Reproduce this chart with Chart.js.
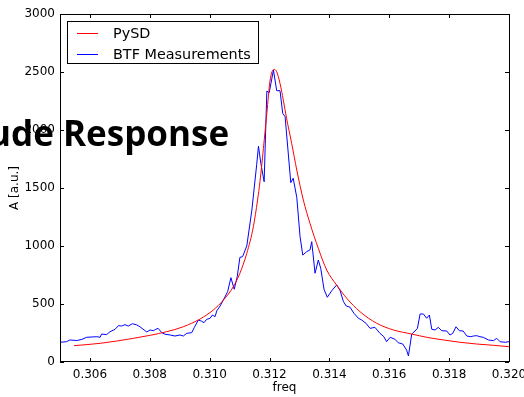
<!DOCTYPE html>
<html>
<head>
<meta charset="utf-8">
<script src="https://cdn.jsdelivr.net/npm/chart.js@4.4.1/dist/chart.umd.min.js"></script>
<style>
  html, body { margin: 0; padding: 0; background: #fff; }
  canvas { display: block; }
</style>
</head>
<body>
<canvas id="chart" width="524" height="397"></canvas>
<script>
const measFreq = [
  0.30500, 0.30522, 0.30533, 0.30556, 0.30573, 0.30589, 0.30623, 0.30634, 0.30639, 0.30656,
  0.30667, 0.30684, 0.30695, 0.30706, 0.30717, 0.30728, 0.30742, 0.30756, 0.30767, 0.30781,
  0.30790, 0.30801, 0.30812, 0.30820, 0.30828, 0.30840, 0.30851, 0.30868, 0.30884, 0.30901,
  0.30912, 0.30923, 0.30940, 0.30949, 0.30962, 0.30973, 0.30981, 0.30990, 0.31001, 0.31009,
  0.31018, 0.31024, 0.31035, 0.31048, 0.31060, 0.31071, 0.31082, 0.31092, 0.31101, 0.31110,
  0.31124, 0.31141, 0.31157, 0.31163, 0.31171, 0.31182, 0.31191, 0.31199, 0.31213, 0.31224,
  0.31235, 0.31244, 0.31252, 0.31271, 0.31279, 0.31291, 0.31302, 0.31311, 0.31324, 0.31335,
  0.31341, 0.31352, 0.31363, 0.31371, 0.31382, 0.31393, 0.31408, 0.31424, 0.31435, 0.31447,
  0.31456, 0.31469, 0.31482, 0.31497, 0.31508, 0.31522, 0.31536, 0.31552, 0.31569, 0.31582,
  0.31591, 0.31603, 0.31619, 0.31630, 0.31645, 0.31658, 0.31664, 0.31675, 0.31686, 0.31694,
  0.31703, 0.31714, 0.31725, 0.31734, 0.31742, 0.31753, 0.31764, 0.31775, 0.31792, 0.31803,
  0.31812, 0.31823, 0.31834, 0.31847, 0.31859, 0.31872, 0.31881, 0.31892, 0.31903, 0.31914,
  0.31931, 0.31948, 0.31959, 0.31970, 0.31987, 0.32000
];
const measAmp = [
  170, 175, 190, 185, 195, 213, 218, 213, 241, 236,
  261, 282, 313, 310, 322, 310, 330, 320, 304, 276,
  259, 276, 270, 282, 290, 253, 239, 233, 224, 233,
  224, 247, 253, 299, 362, 352, 339, 368, 376, 405,
  391, 442, 483, 546, 606, 727, 627, 735, 902, 908,
  1000, 1310, 1700, 1860, 1713, 1554, 2335, 2322, 2517, 2339,
  2339, 2144, 2115, 1546, 1584, 1420, 1080, 922, 951, 965,
  1037, 765, 879, 808, 627, 558, 615, 664, 621, 520,
  483, 472, 420, 377, 362, 334, 290, 299, 247, 218,
  175, 213, 196, 166, 155, 103, 52, 241, 267, 290,
  414, 414, 377, 405, 282, 276, 299, 270, 267, 233,
  247, 304, 270, 267, 224, 218, 224, 227, 218, 213,
  190, 184, 204, 175, 170, 175
];

// PySD fit (red)
const fitFreq = [
  0.30547, 0.30634, 0.30745, 0.30801, 0.30856, 0.30912, 0.30968, 0.31012, 0.31046, 0.31079,
  0.31101, 0.31124, 0.31146, 0.31160, 0.31168, 0.31191, 0.31202, 0.31215, 0.31224, 0.31235,
  0.31246, 0.31257, 0.31274, 0.31291, 0.31313, 0.31335, 0.31363, 0.31391, 0.31424, 0.31458,
  0.31502, 0.31558, 0.31614, 0.31675, 0.31725, 0.31781, 0.31836, 0.31892, 0.31948, 0.32000
];
const fitAmp = [
  141, 161, 204, 230, 261, 304, 371, 448, 534, 649,
  765, 937, 1166, 1396, 1554, 2144, 2431, 2523, 2502, 2402,
  2258, 2100, 1885, 1655, 1396, 1196, 980, 793, 664, 549,
  434, 334, 276, 241, 213, 190, 170, 155, 144, 132
];

const xTicks = [0.306, 0.308, 0.310, 0.312, 0.314, 0.316, 0.318, 0.320];
const yTicks = [0, 500, 1000, 1500, 2000, 2500, 3000];
const overlayText = 'ude Response';

const FONT = 'DejaVu Sans';

function toPoints(xs, ys) {
  return xs.map((x, i) => ({ x: x, y: ys[i] }));
}

// matplotlib style frame, inward ticks, legend box and the cut title
const decorPlugin = {
  id: 'decor',
  afterDatasetsDraw(chart) {
    const { ctx, chartArea: a, scales } = chart;
    ctx.save();
    ctx.strokeStyle = '#000';
    ctx.lineWidth = 1;
    ctx.strokeRect(a.left + 0.5, a.top + 0.5, a.right - a.left, a.bottom - a.top - 1);
    ctx.beginPath();
    xTicks.forEach(t => {
      const px = Math.round(scales.x.getPixelForValue(t)) + 0.5;
      ctx.moveTo(px, a.bottom);
      ctx.lineTo(px, a.bottom - 4);
      ctx.moveTo(px, a.top);
      ctx.lineTo(px, a.top + 4);
    });
    yTicks.forEach(t => {
      const py = Math.round(scales.y.getPixelForValue(t)) + 0.5;
      ctx.moveTo(a.left, py);
      ctx.lineTo(a.left + 4, py);
      ctx.moveTo(a.right, py);
      ctx.lineTo(a.right - 4, py);
    });
    ctx.stroke();

    // legend
    const box = { x: 67.5, y: 21.5, w: 191, h: 42 };
    ctx.fillStyle = '#fff';
    ctx.fillRect(box.x, box.y, box.w, box.h);
    ctx.strokeRect(box.x, box.y, box.w, box.h);
    ctx.font = '14.4px "' + FONT + '"';
    ctx.textBaseline = 'middle';
    chart.data.datasets.forEach((ds, i) => {
      const ly = 33 + i * 21;
      ctx.strokeStyle = ds.borderColor;
      ctx.beginPath();
      ctx.moveTo(77, ly + 0.5);
      ctx.lineTo(98, ly + 0.5);
      ctx.stroke();
      ctx.fillStyle = '#000';
      ctx.fillText(ds.label, 113, ly + 1);
    });
    ctx.restore();
  },
  afterDraw(chart) {
    const { ctx } = chart;
    ctx.save();
    ctx.font = 'bold 35px "Open Sans"';
    ctx.fillStyle = '#000';
    ctx.textBaseline = 'alphabetic';
    const lead = ctx.measureText('ude ').width;
    ctx.fillText(overlayText, 63 - lead, 146);
    ctx.restore();
  }
};

const ctx = document.getElementById('chart').getContext('2d');
const chart = new Chart(ctx, {
  type: 'line',
  data: {
    datasets: [
      {
        label: 'PySD',
        data: toPoints(fitFreq, fitAmp),
        borderColor: '#ff0000',
        borderWidth: 1,
        pointRadius: 0,
        cubicInterpolationMode: 'monotone',
        fill: false
      },
      {
        label: 'BTF Measurements',
        data: toPoints(measFreq, measAmp),
        borderColor: '#0000ff',
        borderWidth: 1,
        pointRadius: 0,
        tension: 0,
        fill: false
      }
    ]
  },
  options: {
    responsive: false,
    animation: false,
    events: [],
    layout: { padding: { left: 0, right: 15, top: 14, bottom: 0 } },
    plugins: {
      legend: { display: false },
      tooltip: { enabled: false }
    },
    scales: {
      x: {
        type: 'linear',
        min: 0.305,
        max: 0.320,
        grid: { display: false, drawTicks: false },
        border: { display: false },
        afterBuildTicks: s => { s.ticks = xTicks.map(v => ({ value: v })); },
        afterFit: s => { s.height = 35; s.paddingLeft = 0; s.paddingRight = 0; },
        ticks: {
          color: '#000',
          padding: 6,
          maxRotation: 0,
          autoSkip: false,
          font: { family: FONT, size: 12 },
          callback: v => v.toFixed(3)
        },
        title: {
          display: true,
          text: 'freq',
          color: '#000',
          padding: { top: 0, bottom: 2 },
          font: { family: FONT, size: 12 }
        }
      },
      y: {
        min: 0,
        max: 3000,
        grid: { display: false, drawTicks: false },
        border: { display: false },
        afterBuildTicks: s => { s.ticks = yTicks.map(v => ({ value: v })); },
        afterFit: s => { s.width = 60; s.paddingTop = 0; s.paddingBottom = 0; },
        ticks: {
          color: '#000',
          padding: 5,
          font: { family: FONT, size: 12 },
          callback: v => String(v)
        },
        title: {
          display: true,
          text: 'A [a.u.]',
          color: '#000',
          padding: { top: 8, bottom: 0 },
          font: { family: FONT, size: 12 }
        }
      }
    }
  },
  plugins: [decorPlugin]
});
</script>
</body>
</html>
